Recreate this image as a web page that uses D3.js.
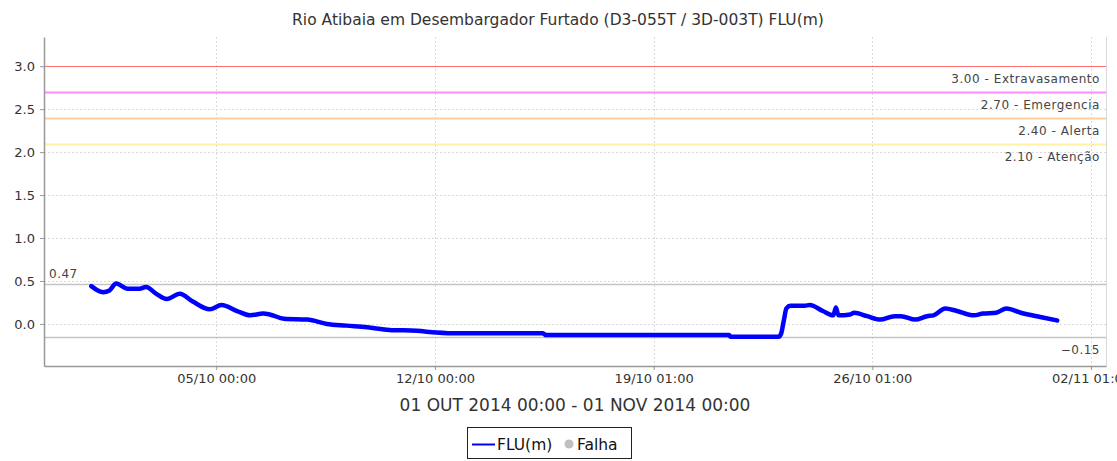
<!DOCTYPE html>
<html>
<head>
<meta charset="utf-8">
<script src="https://cdn.jsdelivr.net/npm/d3@7"></script>
<style>
    body { margin: 0; background: #fff; }
    text { font-family: "DejaVu Sans", sans-serif; fill: #333; }
</style>
</head>
<body>
<svg id="chart" width="1117" height="461"></svg>
<script>
'use strict';

// FLU(m) readings, local time (fixed offset, no DST)
var times = [
    '2014-10-01T00:00', '2014-10-01T09:00', '2014-10-01T14:00', '2014-10-01T19:00',
    '2014-10-02T04:00', '2014-10-02T13:00', '2014-10-02T18:00', '2014-10-03T02:00',
    '2014-10-03T10:00', '2014-10-03T20:00', '2014-10-04T06:00', '2014-10-04T19:00',
    '2014-10-05T04:00', '2014-10-05T16:00', '2014-10-06T02:00', '2014-10-06T12:00',
    '2014-10-06T17:00', '2014-10-07T04:00', '2014-10-07T22:00', '2014-10-08T13:00',
    '2014-10-09T04:00', '2014-10-09T20:00', '2014-10-10T13:00', '2014-10-11T10:00',
    '2014-10-12T01:00', '2014-10-12T17:00', '2014-10-15T11:00', '2014-10-15T13:00',
    '2014-10-21T10:00', '2014-10-21T11:00', '2014-10-23T00:00', '2014-10-23T02:00',
    '2014-10-23T04:00', '2014-10-23T06:00', '2014-10-23T09:00', '2014-10-23T20:00',
    '2014-10-24T00:00', '2014-10-24T10:00', '2014-10-24T18:00', '2014-10-24T20:00',
    '2014-10-24T22:00', '2014-10-25T07:00', '2014-10-25T10:00', '2014-10-25T20:00',
    '2014-10-26T06:00', '2014-10-26T17:00', '2014-10-26T22:00', '2014-10-27T09:00',
    '2014-10-27T18:00', '2014-10-27T23:00', '2014-10-28T08:00', '2014-10-28T17:00',
    '2014-10-29T06:00', '2014-10-29T13:00', '2014-10-29T23:00', '2014-10-30T07:00',
    '2014-10-30T18:00', '2014-10-31T09:00', '2014-10-31T22:00'
];
var flu = [
    0.44, 0.37, 0.39, 0.47,
    0.41, 0.41, 0.43, 0.35,
    0.29, 0.35, 0.26, 0.17,
    0.22, 0.15, 0.10, 0.12,
    0.11, 0.06, 0.05, 0.00,
    -0.02, -0.04, -0.07, -0.08,
    -0.10, -0.11, -0.11, -0.13,
    -0.13, -0.15, -0.15, -0.11,
    0.04, 0.18, 0.21, 0.21,
    0.22, 0.15, 0.10, 0.19,
    0.10, 0.11, 0.13, 0.09,
    0.05, 0.09, 0.09, 0.05,
    0.09, 0.10, 0.18, 0.15,
    0.10, 0.12, 0.13, 0.18,
    0.13, 0.08, 0.04
];

var thresholdValues = [3.00, 2.70, 2.40, 2.10];
var thresholdNames = ['Extravasamento', 'Emergencia', 'Alerta', 'Atenção'];
var thresholdColors = ['#ff6f6f', '#ff8cff', '#ffcf9e', '#fff0a8'];

var yTicks = [0, 0.5, 1.0, 1.5, 2.0, 2.5, 3.0];
var xTickTimes = ['2014-10-05T00:00', '2014-10-12T00:00', '2014-10-19T00:00',
    '2014-10-26T00:00', '2014-11-02T00:00'];
var xTickLabels = ['05/10 00:00', '12/10 00:00', '19/10 01:00', '26/10 01:00', '02/11 01:00'];

var xDomain = ['2014-09-29T11:40', '2014-11-02T11:30'];
var yDomain = [-0.49, 3.34];

var titleText = 'Rio Atibaia em Desembargador Furtado (D3-055T / 3D-003T) FLU(m)';
var periodText = '01 OUT 2014 00:00 - 01 NOV 2014 00:00';

var parse = d3.utcParse('%Y-%m-%dT%H:%M');
var fmt = d3.format('.2f');

var plot = {left: 44, right: 1106, top: 37, bottom: 366};

var x = d3.scaleUtc()
    .domain(xDomain.map(parse))
    .range([plot.left, plot.right]);

var y = d3.scaleLinear()
    .domain(yDomain)
    .range([plot.bottom, plot.top]);

var data = times.map(function(t, i) {
    return {t: parse(t), v: flu[i]};
});

var svg = d3.select('#chart');

svg.append('text')
    .attr('x', 558)
    .attr('y', 25)
    .attr('text-anchor', 'middle')
    .style('font-size', '15.5px')
    .text(titleText);

// grid
var grid = svg.append('g')
    .attr('stroke', '#dadada')
    .attr('stroke-dasharray', '2,2')
    .attr('stroke-width', 1);

grid.selectAll('line.h')
    .data(yTicks)
    .enter().append('line')
    .attr('class', 'h')
    .attr('x1', plot.left)
    .attr('x2', plot.right)
    .attr('y1', function(d) { return Math.round(y(d)) + 0.5; })
    .attr('y2', function(d) { return Math.round(y(d)) + 0.5; });

grid.selectAll('line.v')
    .data(xTickTimes)
    .enter().append('line')
    .attr('class', 'v')
    .attr('y1', plot.top)
    .attr('y2', plot.bottom)
    .attr('x1', function(d) { return Math.round(x(parse(d))) + 0.5; })
    .attr('x2', function(d) { return Math.round(x(parse(d))) + 0.5; });

// right border
svg.append('line')
    .attr('x1', plot.right + 0.5)
    .attr('x2', plot.right + 0.5)
    .attr('y1', plot.top)
    .attr('y2', plot.bottom)
    .attr('stroke', '#d8d8d8');

// threshold lines
thresholdValues.forEach(function(v, i) {
    var yy = Math.round(y(v)) + 0.5;
    svg.append('line')
        .attr('x1', plot.left)
        .attr('x2', plot.right)
        .attr('y1', yy)
        .attr('y2', yy)
        .attr('stroke', thresholdColors[i])
        .attr('stroke-width', i === 0 ? 1 : 2);
    svg.append('text')
        .attr('x', plot.right - 6)
        .attr('y', yy + 16)
        .attr('text-anchor', 'end')
        .style('font-size', '12px')
        .style('letter-spacing', '0.55px')
        .style('fill', '#444')
        .text(fmt(v) + ' - ' + thresholdNames[i]);
});

// max / min markers
var vMax = d3.max(flu);
var vMin = d3.min(flu);

[vMax, vMin].forEach(function(v) {
    var yy = Math.round(y(v)) + 0.5;
    svg.append('line')
        .attr('x1', plot.left)
        .attr('x2', plot.right)
        .attr('y1', yy)
        .attr('y2', yy)
        .attr('stroke', '#c4c4c4')
        .attr('stroke-width', 1.5);
});

svg.append('text')
    .attr('x', plot.left + 5)
    .attr('y', Math.round(y(vMax)) - 6)
    .style('font-size', '12px')
    .style('letter-spacing', '0.5px')
    .style('fill', '#444')
    .text(fmt(vMax));

svg.append('text')
    .attr('x', plot.right - 6)
    .attr('y', Math.round(y(vMin)) + 17)
    .attr('text-anchor', 'end')
    .style('font-size', '12px')
    .style('letter-spacing', '0.5px')
    .style('fill', '#444')
    .text(fmt(vMin));

// axes
var yAxis = d3.axisLeft(y)
    .tickValues(yTicks)
    .tickFormat(d3.format('.1f'))
    .tickSize(4)
    .tickSizeOuter(0)
    .tickPadding(5);

var gy = svg.append('g')
    .attr('transform', 'translate(' + plot.left + ',0)')
    .call(yAxis);

var xAxis = d3.axisBottom(x)
    .tickValues(xTickTimes.map(parse))
    .tickFormat(function(d, i) { return xTickLabels[i]; })
    .tickSize(4)
    .tickSizeOuter(0)
    .tickPadding(4);

var gx = svg.append('g')
    .attr('transform', 'translate(0,' + plot.bottom + ')')
    .call(xAxis);

[gx, gy].forEach(function(g) {
    g.select('.domain').attr('stroke', '#999').attr('stroke-width', 1.5);
    g.selectAll('.tick line').attr('stroke', '#999');
    g.selectAll('.tick text')
        .style('font-family', '"DejaVu Sans", sans-serif')
        .style('font-size', '13px')
        .style('fill', '#333');
});

// series
var line = d3.line()
    .x(function(d) { return x(d.t); })
    .y(function(d) { return y(d.v); })
    .curve(d3.curveMonotoneX);

svg.append('path')
    .datum(data)
    .attr('fill', 'none')
    .attr('stroke', '#0000ff')
    .attr('stroke-width', 4.5)
    .attr('stroke-linejoin', 'round')
    .attr('stroke-linecap', 'round')
    .attr('d', line);

svg.append('text')
    .attr('x', (plot.left + plot.right) / 2)
    .attr('y', 411)
    .attr('text-anchor', 'middle')
    .style('font-size', '17px')
    .text(periodText);

// legend
var legend = svg.append('g');

legend.append('rect')
    .attr('x', 467.5)
    .attr('y', 427.5)
    .attr('width', 164)
    .attr('height', 31)
    .attr('fill', '#fff')
    .attr('stroke', '#222');

legend.append('line')
    .attr('x1', 472)
    .attr('x2', 495)
    .attr('y1', 444.5)
    .attr('y2', 444.5)
    .attr('stroke', '#0000ff')
    .attr('stroke-width', 2);

legend.append('text')
    .attr('x', 497)
    .attr('y', 450)
    .style('font-size', '15.5px')
    .style('fill', '#111')
    .text('FLU(m)');

legend.append('circle')
    .attr('cx', 569)
    .attr('cy', 444)
    .attr('r', 4.5)
    .attr('fill', '#c0c0c0');

legend.append('text')
    .attr('x', 577)
    .attr('y', 450)
    .style('font-size', '15.5px')
    .style('fill', '#111')
    .text('Falha');
</script>
</body>
</html>
